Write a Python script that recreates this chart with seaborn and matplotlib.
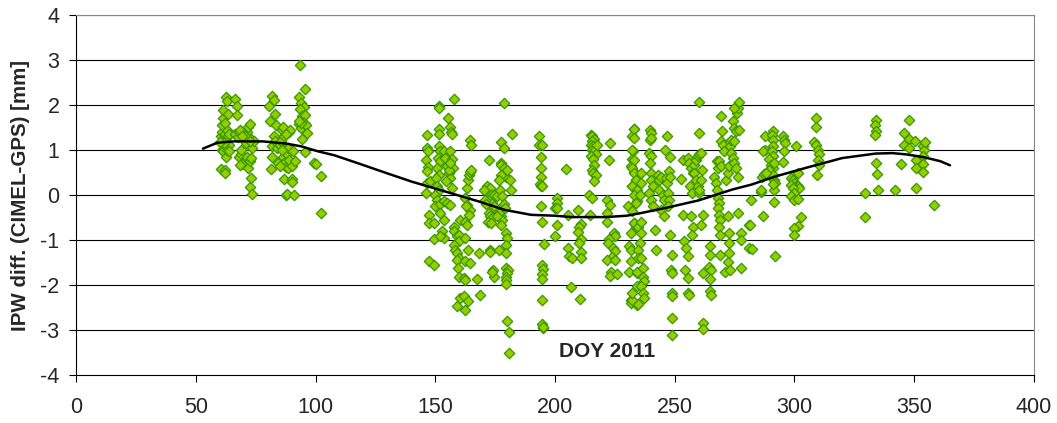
import numpy as np
import pandas as pd
import seaborn as sns
import matplotlib.pyplot as plt

# day of year / IPW difference pairs
doy = [
    # DOY 60-64
    60.5, 62, 62.3, 61, 61.5, 62.5, 63, 60.5, 61, 61.5, 62, 62.5, 63, 63.5, 64, 60.8, 61.2, 61.5,
    62.5, 63, 63.5, 64, 61.8, 62.3, 60.2, 63.8,
    # DOY 66-75
    66.3, 67, 67.4, 66.2, 67.5, 68, 68.5, 68, 68.8, 69.2, 68.5, 69, 70.5, 71, 71.5, 72, 72.5, 71.5,
    72, 72.5, 73, 72.5, 73, 73.5, 73.5, 73, 74.5, 70.5, 69.5, 72.5,
    # DOY 80-92
    80.5, 81, 82, 82.5, 83, 83.5, 81.5, 82, 82, 82.5, 83, 84, 84.5, 85, 85.5, 86, 86.5, 87, 86.5,
    87, 87.5, 87, 87.5, 88, 88, 88.5, 89, 89.5, 88.5, 89, 90, 90, 90.2, 90.5, 91, 91.5, 87.5, 86, 85,
    # DOY 93-103
    93.5, 93, 94, 95, 95.5, 93.5, 94.5, 95.5, 93, 94, 94.5, 95, 96, 96.5, 95.5, 94, 93.2,
    99.5, 100, 102.5, 102.5,
    # DOY 146-182
    157.7, 151.5, 151.7, 178.7, 155.4, 146.6, 151.5, 151.5, 156.3, 156.6, 156.9, 164.7, 165, 181.9,
    177.5, 178.7, 146.6, 146.9, 146.3, 146.9, 146.6, 151.5, 151.9, 151, 152.2, 150.8, 151.5,
    153.5, 154.2, 155, 155.6, 156.3, 154.7, 157, 156.3, 157, 157.5, 155.6, 156.3, 146.3, 146.6, 148,
    150.5, 150.8, 151.5, 150, 150.8, 150, 152.2, 153.5, 154.9, 156.3,
    147.3, 147.3, 149.6, 152.2, 153.5, 152.9, 153.5, 149.6, 152.2, 147.3, 149.6,
    157.7, 157.7, 158.9, 159.8, 159.8, 157.7, 158.4, 159.1, 159.8, 158.9, 159.4, 159.8, 161.9,
    160.5, 162.6, 163.3, 162.6, 163.6, 162.6, 164.4, 162.6, 160.2, 158.9, 161.9, 163.6, 162.6,
    168.2, 167.5, 168.9, 162.6, 163.3, 164.7, 164, 163, 163.3, 163.6, 164, 164.7, 165, 172.4,
    171.7, 172.8, 173.1, 173.4, 173.8, 172.4, 172.8, 173.8, 171.9, 173.1,
    172.8, 172.8, 176.6, 174.2, 174.5, 173.6,
    174.5, 175.9, 177.3, 177.5, 178.7, 179.4, 180, 181.4, 181.7, 177, 178, 177.3, 176.6,
    178.7, 179.1, 177.3, 178, 179.4, 180, 179.4, 179.7, 179.4, 180.5, 180, 179.4, 179.7, 179.7,
    180, 180.7, 180.7, 177.3, 176.6, 175.6, 174.5, 170.3, 171, 171.4,
    # DOY 193-235
    193.3, 193.5, 194.7, 194, 194, 194, 193.7, 194.2, 194.7, 194, 194.7, 195.4, 194.7, 195.1,
    194.8, 194.7, 194.7, 194.8, 194.9, 195.1, 204.8,
    200.7, 200.7, 200.2, 200.9, 200.7, 200.2, 205.5, 205.4, 205.8, 207.2, 206.8,
    209.7, 210.7, 210.1, 209.6, 211, 210, 210.7, 211, 210.4,
    214.9, 215.6, 216.3, 215.6, 214.9, 216, 215.6, 216.3, 217, 215.2, 216, 216.3, 215.6, 216,
    217, 216.3, 217.4, 214.2, 215.6, 214.6,
    222.8, 222.6, 221.9, 223, 221.9, 221.9, 224.7, 225.3, 222.6, 222.1, 224.4, 224.9, 223.9,
    221.9, 224.9, 223.3, 223, 225.8,
    230.5, 233, 232.3, 232.8, 232.3, 231.9, 233, 233.7, 232.3, 234.4, 234.1, 233, 233.7, 231.6,
    230.9, 231.9, 231.6, 230.9, 234.4, 234.1, 231.6, 231.6, 234.4,
    # DOY 232-282
    233.1, 233.1, 232.4, 233.1, 232.4, 233.1, 233.8, 232.4, 234.2, 233.1, 233.8, 232.4, 233.1,
    234.5, 235.9, 235.9, 235.9, 235.6, 235.9, 235.6, 234.5, 234.5, 235.9, 234.2, 236.6, 236.6,
    237, 235.9, 236.6, 237, 234.5, 232.4, 232.4,
    239.8, 240.3, 239.8, 240.3, 239.4, 240.1, 239.8, 240.3, 240.1, 240.8, 239.4, 240.1, 240.8,
    241.7, 242.2, 242.9, 243.6, 244.3, 243.6, 245, 245.6, 244.3, 246.3, 246.8, 247.7, 248.2,
    247.1, 247.7, 245.4, 247.1,
    246.8, 245.9, 248.2, 248.2, 249.1, 248.4, 248.7, 249.1, 248.7, 248.7, 248.7,
    252.6, 253.3, 253.7, 255.4, 256.1, 256.8, 257.5, 256.5, 257.1, 256.8, 257.5, 257.1, 254,
    254.7, 255.4, 254.3, 255.7, 255.4, 256.1,
    258.2, 258.9, 259.6, 260.3, 261, 258.2, 258.9, 259.6, 260.3, 261, 261.3, 261.7, 261, 260.3,
    260, 260, 261.7, 261.7, 261.7,
    264.9, 264.9, 264.5, 265.2, 264.9, 264.9, 265.2,
    266.6, 267.7, 268.2, 267.3, 267.7, 268.2, 268.7, 268.2, 268.7, 269.1, 268.7, 269.1, 269.4,
    269.6, 269.4, 270.1, 270.5, 268.7, 269.4,
    269.1, 271.1, 272.1, 272.8, 272.8, 272.8, 273.2, 272.1, 271.5, 272.1, 272.8,
    273.2, 273.5, 274.2, 274.9, 275.6, 276.3, 274.2, 274.9, 275.6, 277, 276, 276.6, 277, 274.9,
    273.5, 274.6, 276.6, 277.7, 277.7, 277.7, 281.2, 281.2,
    # DOY 281-358
    281.9, 281.6, 282.2, 286.9, 291.9,
    287.7, 287.7, 286.8, 290.9, 290.5, 290.9, 290.9, 290.5, 290.9, 289.6, 290.3, 290.9, 291.6,
    289.6, 290.9, 291.6, 291.9, 291.6, 291.6, 286.1, 286.1, 286.3, 287.2, 288.2, 290.9,
    295.1, 295.6, 296.1, 295.6, 295.1, 300.7,
    298.6, 299.3, 300, 300.7, 301.4, 302.1, 298.6, 299.3, 300, 298.6, 300, 301.7, 302.8, 301.7,
    300, 299.7, 301.7,
    309.1, 309.1, 308.4, 309.1, 309.8, 310.1, 309.8, 310.1, 309.5,
    329.6, 329.6, 334.2, 333.5, 334.2, 333.5, 334.2, 334.6, 334.9, 341.9, 344.6,
    348.1, 346, 348.1, 350.2, 346, 348.1, 350.9, 350.9, 353.7, 354.1, 353.7, 354.6, 353.7, 353.7,
    350.9, 358.2,
]
diff = [
    0.58, 0.55, 0.48, 1.0, 0.98, 0.85, 1.0, 1.3, 1.4, 1.25, 1.35, 1.2, 1.45, 1.3, 1.1, 1.55, 1.7, 1.88,
    2.18, 2.08, 1.8, 1.35, 1.15, 1.6, 1.18, 0.98,
    2.14, 1.98, 1.78, 1.35, 1.28, 1.4, 1.45, 0.85, 0.92, 0.68, 0.66, 1.0, 1.28, 1.15, 1.4, 1.5, 1.58, 0.85,
    0.6, 0.75, 0.82, 0.18, 0.38, 0.02, 1.05, 1.25, 1.2, 1.3, 1.3, 1.2,
    1.98, 1.65, 2.2, 2.1, 1.8, 1.55, 0.58, 0.85, 1.08, 1.3, 1.2, 1.05, 0.72, 1.1, 1.2, 1.45, 1.52, 1.3, 0.85,
    0.7, 0.62, 0.35, 0.0, 0.02, 0.9, 1.05, 1.4, 1.45, 0.6, 0.78, 0.65, 0.35, 0.28, 0.98, 0.0, 0.75, 1.35, 1.0, 0.65,
    2.88, 2.18, 2.05, 1.95, 2.35, 1.9, 1.75, 1.78, 1.58, 1.48, 1.25, 1.6, 1.55, 1.38, 0.95, 1.6, 1.65,
    0.7, 0.68, 0.43, -0.4,
    2.12, 1.97, 1.93, 2.04, 1.71, 1.34, 1.47, 1.35, 1.5, 1.39, 1.35, 1.23, 1.12, 1.36,
    1.17, 1.04, 1.04, 0.97, 0.78, 0.62, 0.53, 1.08, 0.97, 0.82, 0.75, 0.6, 0.45,
    0.97, 0.82, 0.64, 0.49, 0.38, 0.3, 0.15, 0.97, 0.79, 0.6, 0.56, 0.71, 0.04, 0.27, 0.3,
    0.38, 0.19, 0.12, 0.01, -0.1, -0.25, -0.21, -0.14, -0.18, -0.22,
    -0.44, -0.62, -0.62, -0.4, -0.55, -0.81, -0.96, -0.98, -0.92, -1.47, -1.55,
    -0.7, -0.81, -0.92, -0.88, -1.03, -1.1, -1.22, -1.29, -1.4, -1.44, -1.62, -1.81, -1.85,
    -0.55, -0.59, -0.66, -0.96, -1.22, -1.47, -1.51, -1.88, -2.29, -2.46, -2.25, -2.36, -2.56,
    -1.29, -1.87, -2.22, -0.07, -0.22, -0.33, -0.44, -0.25, 0.15, 0.34, 0.45, 0.52, 0.56, 0.78,
    0.19, 0.15, 0.0, -0.07, -0.18, -0.4, -0.47, -0.51, -0.59, -0.62,
    -1.22, -1.27, -1.22, -1.66, -1.81, -1.72,
    0.0, -0.03, 0.71, 0.67, 0.6, 0.41, 0.56, 0.34, 0.12, 0.12, -0.03, 0.45, 0.34,
    -0.21, -0.29, -0.47, -0.55, -0.84, -0.96, -1.1, -1.29, -1.62, -1.66, -1.73, -1.81, -1.88, -1.98,
    -2.79, -3.05, -3.51, -0.66, -0.4, -0.47, -0.25, 0.12, -0.1, -0.21,
    1.3, 1.1, 1.1, 0.84, 0.61, 0.4, 0.25, 0.21, 0.19, -0.25, -0.59, -1.09, -1.55, -1.65,
    -1.75, -1.87, -2.34, -2.87, -2.96, -2.92, 0.58,
    -0.07, -0.18, -0.29, -0.29, -0.66, -0.92, -0.44, -1.18, -1.35, -1.4, -2.05,
    -0.33, -0.64, -0.7, -0.82, -0.98, -1.07, -1.27, -1.4, -2.31,
    1.34, 1.3, 1.24, 1.19, 1.12, 1.08, 1.01, 0.97, 0.9, 0.86, 0.79, 0.67, 0.56, 0.49,
    0.45, 0.3, 1.1, 0.01, -0.07, -0.44,
    1.15, 0.78, -0.11, -0.22, -0.4, -0.59, -0.85, -0.92, -0.98, -1.07, -1.18, -1.25, -1.37,
    -1.44, -1.44, -1.72, -1.79, -1.75,
    -0.25, 1.47, 1.3, 0.97, 0.79, 0.64, 0.52, 0.34, 0.19, 0.04, -0.14, -0.62, -0.7, -0.84,
    -1.14, -1.22, -1.47, -1.7, -1.73, -2.03, -2.33, -2.4, -2.44,
    1.47, 1.27, 1.0, 0.78, 0.6, 0.49, 0.34, 0.19, 0.12, 0.01, -0.18, -0.36, -0.62,
    -0.7, -0.59, 0.49, 0.27, 0.01, -0.84, -1.07, -1.21, -1.4, -1.4, -1.7, -1.62, -1.81,
    -1.92, -2.03, -2.18, -2.29, -2.41, -2.33, -2.18,
    1.45, 1.38, 1.23, 1.27, 0.93, 0.86, 0.71, 0.49, 0.34, 0.19, 0.04, -0.11, -0.25,
    -0.77, -1.22, 0.45, 0.34, 0.41, 0.12, 0.01, -0.11, -0.33, 0.38, 0.27, 0.53, 0.41,
    0.04, -0.11, -0.47, -0.25,
    1.3, 0.99, 0.84, -0.88, -1.33, -1.66, -1.73, -2.18, -2.25, -2.73, -3.1,
    0.35, 0.78, -0.44, 0.82, 0.71, 0.6, 0.49, 0.19, 0.04, -0.47, -0.7, -0.88, -1.03,
    -1.18, -1.36, -1.66, -1.85, -2.18, -2.22,
    0.67, 0.78, 0.86, 0.9, 0.93, 0.49, 0.34, 0.19, 0.04, 0.34, 0.56, -0.44, -0.66, 0.12,
    2.06, 1.38, -1.73, -2.85, -2.98,
    -1.14, -1.33, -1.59, -1.66, -1.87, -2.14, -2.22,
    0.41, 0.75, 0.6, 0.27, 0.12, -0.07, -0.18, -0.29, -0.44, -0.55, -0.7, -0.88, 1.75,
    1.41, 1.19, 1.12, 0.97, 0.75, 0.64,
    -1.33, -1.7, -1.48, -0.84, -1.07, -1.29, -1.66, -0.47, 0.34, 0.49, 0.64,
    1.08, 0.93, 0.82, 0.71, 0.6, 0.41, 1.64, 1.49, 1.41, 1.45, 1.82, 1.93, 2.06, 1.93,
    1.23, 1.19, -0.4, -0.84, -0.99, -1.62, -0.66, -1.18,
    -0.1, -0.66, -1.2, -0.47, -1.35,
    1.3, 1.0, 0.97, 1.41, 1.34, 1.21, 1.08, 0.97, 0.86, 0.79, 0.67, 0.6, 0.71,
    0.56, 0.45, 0.34, 0.27, 0.12, -0.16, 0.06, 0.1, 0.41, 0.47, 0.49, 0.25,
    1.3, 1.23, 1.16, 0.97, 0.73, 1.08,
    0.38, 0.34, 0.27, 0.21, 0.19, 0.16, 0.23, 0.16, 0.04, -0.03, -0.1, -0.09, -0.49, -0.68,
    -0.73, -0.88, 0.49,
    1.71, 1.52, 1.17, 1.12, 1.01, 0.9, 0.78, 0.67, 0.45,
    0.04, -0.49, 1.66, 1.56, 1.41, 1.34, 0.71, 0.47, 0.1, 0.1, 0.69,
    1.66, 1.38, 1.24, 1.19, 1.1, 1.04, 0.78, 0.6, 1.08, 0.99, 0.87, 1.17, 0.69, 0.5,
    0.15, -0.22,
]

# seasonal fit curve
fit_doy = [53, 59, 66, 78, 88, 94, 101, 108, 118, 130, 140, 154, 168, 179, 190, 200, 207,
           221, 230, 236, 246, 260, 274, 282, 292, 306, 320, 334, 341, 347, 354, 361, 365]
fit_diff = [1.03, 1.16, 1.19, 1.19, 1.14, 1.08, 0.97, 0.88, 0.70, 0.48, 0.30, 0.08, -0.14,
            -0.33, -0.44, -0.46, -0.49, -0.49, -0.46, -0.40, -0.29, -0.12, 0.12, 0.23, 0.41,
            0.62, 0.82, 0.92, 0.93, 0.90, 0.84, 0.75, 0.66]

pts = pd.DataFrame({"doy": doy, "diff": diff})
fit = pd.DataFrame({"doy": fit_doy, "diff": fit_diff})

sns.set_theme(style="white")
plt.rcParams["font.family"] = ["Liberation Sans", "DejaVu Sans"]
plt.rcParams["axes.unicode_minus"] = False

fig, ax = plt.subplots(figsize=(10.57, 4.23), dpi=100)
fig.subplots_adjust(left=0.072, right=0.978, top=0.965, bottom=0.113)

for yv in range(-3, 5):
    ax.axhline(yv, color="black", lw=0.8, zorder=0)

sns.scatterplot(data=pts, x="doy", y="diff", marker="D", s=28, color="#99cc00",
                edgecolor="#339900", linewidth=0.9, ax=ax, zorder=2)
sns.lineplot(data=fit, x="doy", y="diff", color="black", lw=1.8, ax=ax, zorder=3)

ax.set_xlim(0, 400)
ax.set_ylim(-4, 4)
ax.set_xticks(range(0, 401, 50))
ax.set_yticks(range(-4, 5))
ax.tick_params(axis="both", direction="out", length=5, width=0.8, color="black",
               labelsize=15.5, bottom=True, left=True)
ax.tick_params(axis="x", pad=11)
ax.tick_params(axis="y", pad=7)
ax.set_xlabel("")
ax.set_ylabel("IPW diff. (CIMEL-GPS) [mm]", fontsize=14.8, fontweight="bold", labelpad=7)
ax.text(222, -3.48, "DOY 2011", fontsize=15, fontweight="bold", ha="center", va="center")

for side in ["left", "bottom"]:
    ax.spines[side].set_color("black")
    ax.spines[side].set_linewidth(0.8)
for side in ["top", "right"]:
    ax.spines[side].set_color("#888888")
    ax.spines[side].set_linewidth(0.8)

fig.savefig("out.png", dpi=100)
